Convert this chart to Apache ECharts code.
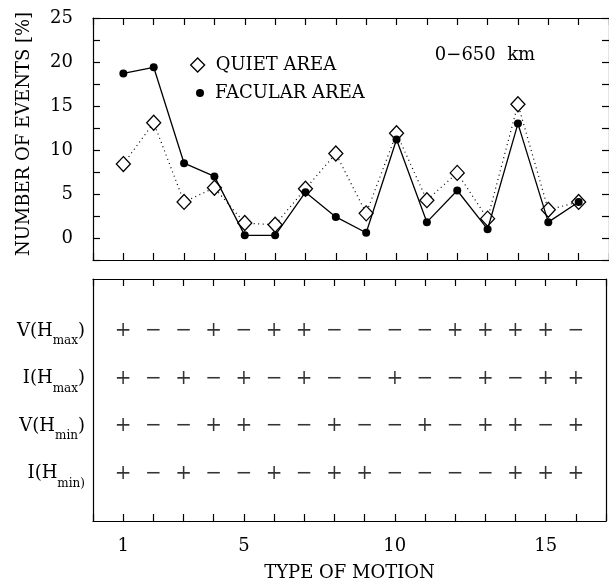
<!DOCTYPE html>
<html>
<head>
<meta charset="utf-8">
<script src="https://cdn.jsdelivr.net/npm/echarts@6/dist/echarts.min.js"></script>
<style>
html,body{margin:0;padding:0;background:#fff;}
#c{width:609px;height:583px;}
</style>
</head>
<body>
<div id="c"></div>
<script>
// ---- data ----
var types = [1,2,3,4,5,6,7,8,9,10,11,12,13,14,15,16];
var quietArea = [8.4, 13.1, 4.1, 5.7, 1.7, 1.5, 5.6, 9.6, 2.8, 11.9, 4.3, 7.4, 2.2, 15.2, 3.2, 4.1];
var facularArea = [18.7, 19.4, 8.5, 7.0, 0.3, 0.3, 5.2, 2.4, 0.6, 11.2, 1.8, 5.4, 1.0, 13.0, 1.8, 4.1];
var yTickLabels = [0, 5, 10, 15, 20, 25];
var xTickLabels = [1, 5, 10, 15];
var rowMain = ['V(H', 'I(H', 'V(H', 'I(H'];
var rowSub = ['max', 'max', 'min', 'min)'];
var rowClose = [')', ')', ')', ''];
var vHmax = ['+','−','−','+','−','+','+','−','−','−','−','+','+','+','+','−'];
var iHmax = ['+','−','+','−','+','−','+','−','−','+','−','−','+','−','+','+'];
var vHmin = ['+','−','−','+','+','−','−','+','−','−','+','−','+','+','−','+'];
var iHmin = ['+','−','+','−','−','+','−','+','+','−','−','−','−','+','+','+'];
var signRows = [vHmax, iHmax, vHmin, iHmin];

var FONT = 'DejaVu Serif';
var BLACK = '#000';

function lineAxis(extra) {
  var base = {
    axisLine: {show: true, onZero: false, lineStyle: {color: BLACK, width: 1.2}},
    axisTick: {show: true, inside: true, length: 7, lineStyle: {color: BLACK, width: 1.2}},
    axisLabel: {show: false},
    splitLine: {show: false}
  };
  for (var k in extra) base[k] = extra[k];
  return base;
}

var signSeries = signRows.map(function (row, ri) {
  return {
    type: 'scatter',
    xAxisIndex: 2, yAxisIndex: 2,
    symbolSize: 0,
    silent: true,
    data: row.map(function (s, i) { return [types[i], 4 - ri, s]; }),
    label: {
      show: true, position: 'inside',
      formatter: function (p) { return p.data[2]; },
      fontFamily: FONT, fontSize: 20, color: BLACK
    }
  };
});

var chart = echarts.init(document.getElementById('c'), null, {renderer: 'canvas'});
chart.setOption({
  backgroundColor: '#fff',
  animation: false,
  grid: [
    {left: 93, top: 18, width: 517, height: 242},
    {left: 93, top: 279, width: 517, height: 243}
  ],
  xAxis: [
    lineAxis({type: 'value', gridIndex: 0, min: 0, max: 17, interval: 1, position: 'bottom'}),
    lineAxis({type: 'value', gridIndex: 0, min: 0, max: 17, interval: 1, position: 'top'}),
    lineAxis({type: 'value', gridIndex: 1, min: 0, max: 17, interval: 1, position: 'bottom',
      axisLabel: {show: true, margin: 16, fontFamily: FONT, fontSize: 18, color: BLACK,
        formatter: function (v) { return xTickLabels.indexOf(v) >= 0 ? String(v) : ''; }},
      name: 'TYPE OF MOTION', nameLocation: 'middle', nameGap: 43,
      nameTextStyle: {fontFamily: FONT, fontSize: 18, color: BLACK}}),
    lineAxis({type: 'value', gridIndex: 1, min: 0, max: 17, interval: 1, position: 'top'})
  ],
  yAxis: [
    lineAxis({type: 'value', gridIndex: 0, min: -2.5, max: 25, interval: 2.5, position: 'left',
      axisLabel: {show: true, margin: 20, fontFamily: FONT, fontSize: 18, color: BLACK,
        formatter: function (v) { return yTickLabels.indexOf(v) >= 0 ? String(v) : ''; }}}),
    lineAxis({type: 'value', gridIndex: 0, min: -2.5, max: 25, interval: 2.5, position: 'right'}),
    lineAxis({type: 'value', gridIndex: 1, min: 0, max: 5.1, interval: 1, position: 'left',
      axisTick: {show: false},
      axisLabel: {show: true, margin: 8, color: BLACK,
        formatter: function (v) {
          var r = 4 - v;
          if (r < 0 || r > 3) return '';
          return '{a|' + rowMain[r] + '}{b|' + rowSub[r] + '}' + (rowClose[r] ? '{a|' + rowClose[r] + '}' : '');
        },
        rich: {
          a: {fontFamily: FONT, fontSize: 18, color: BLACK, lineHeight: 32, verticalAlign: 'middle'},
          b: {fontFamily: FONT, fontSize: 12, color: BLACK, verticalAlign: 'bottom'}
        }}}),
    lineAxis({type: 'value', gridIndex: 1, min: 0, max: 5.1, interval: 1, position: 'right', axisTick: {show: false}})
  ],
  legend: [
    {data: [{name: 'QUIET AREA', icon: 'diamond', itemStyle: {color: '#fff', borderColor: BLACK, borderWidth: 1.3}}],
     left: 185, top: 51, padding: 5, itemWidth: 14, itemHeight: 14, selectedMode: false,
     textStyle: {fontFamily: FONT, fontSize: 18, color: BLACK, padding: [0, 0, 0, 6]}},
    {data: [{name: 'FACULAR AREA', icon: 'circle', itemStyle: {color: BLACK, borderWidth: 0}}],
     left: 191, top: 79, padding: 5, itemWidth: 8, itemHeight: 8, selectedMode: false,
     textStyle: {fontFamily: FONT, fontSize: 18, color: BLACK, padding: [0, 0, 0, 6]}}
  ],
  graphic: [
    {type: 'text', x: 24, y: 134, rotation: Math.PI / 2,
     style: {text: 'NUMBER OF EVENTS [%]', font: '18px "DejaVu Serif"', fill: BLACK, align: 'center', verticalAlign: 'middle'}},
    {type: 'text', x: 485, y: 55,
     style: {text: '0−650  km', font: '18px "DejaVu Serif"', fill: BLACK, align: 'center', verticalAlign: 'middle'}}
  ],
  series: [
    {
      name: 'QUIET AREA', type: 'line', xAxisIndex: 0, yAxisIndex: 0,
      data: types.map(function (t, i) { return [t, quietArea[i]]; }),
      symbol: 'diamond', symbolSize: [14, 15],
      itemStyle: {color: '#fff', borderColor: BLACK, borderWidth: 1.3},
      lineStyle: {color: BLACK, width: 1.2, type: [1, 3.5]},
      z: 2
    },
    {
      name: 'FACULAR AREA', type: 'line', xAxisIndex: 0, yAxisIndex: 0,
      data: types.map(function (t, i) { return [t, facularArea[i]]; }),
      symbol: 'circle', symbolSize: 8,
      itemStyle: {color: BLACK, borderWidth: 0},
      lineStyle: {color: BLACK, width: 1.3, type: 'solid'},
      z: 3
    }
  ].concat(signSeries)
});
</script>
</body>
</html>
